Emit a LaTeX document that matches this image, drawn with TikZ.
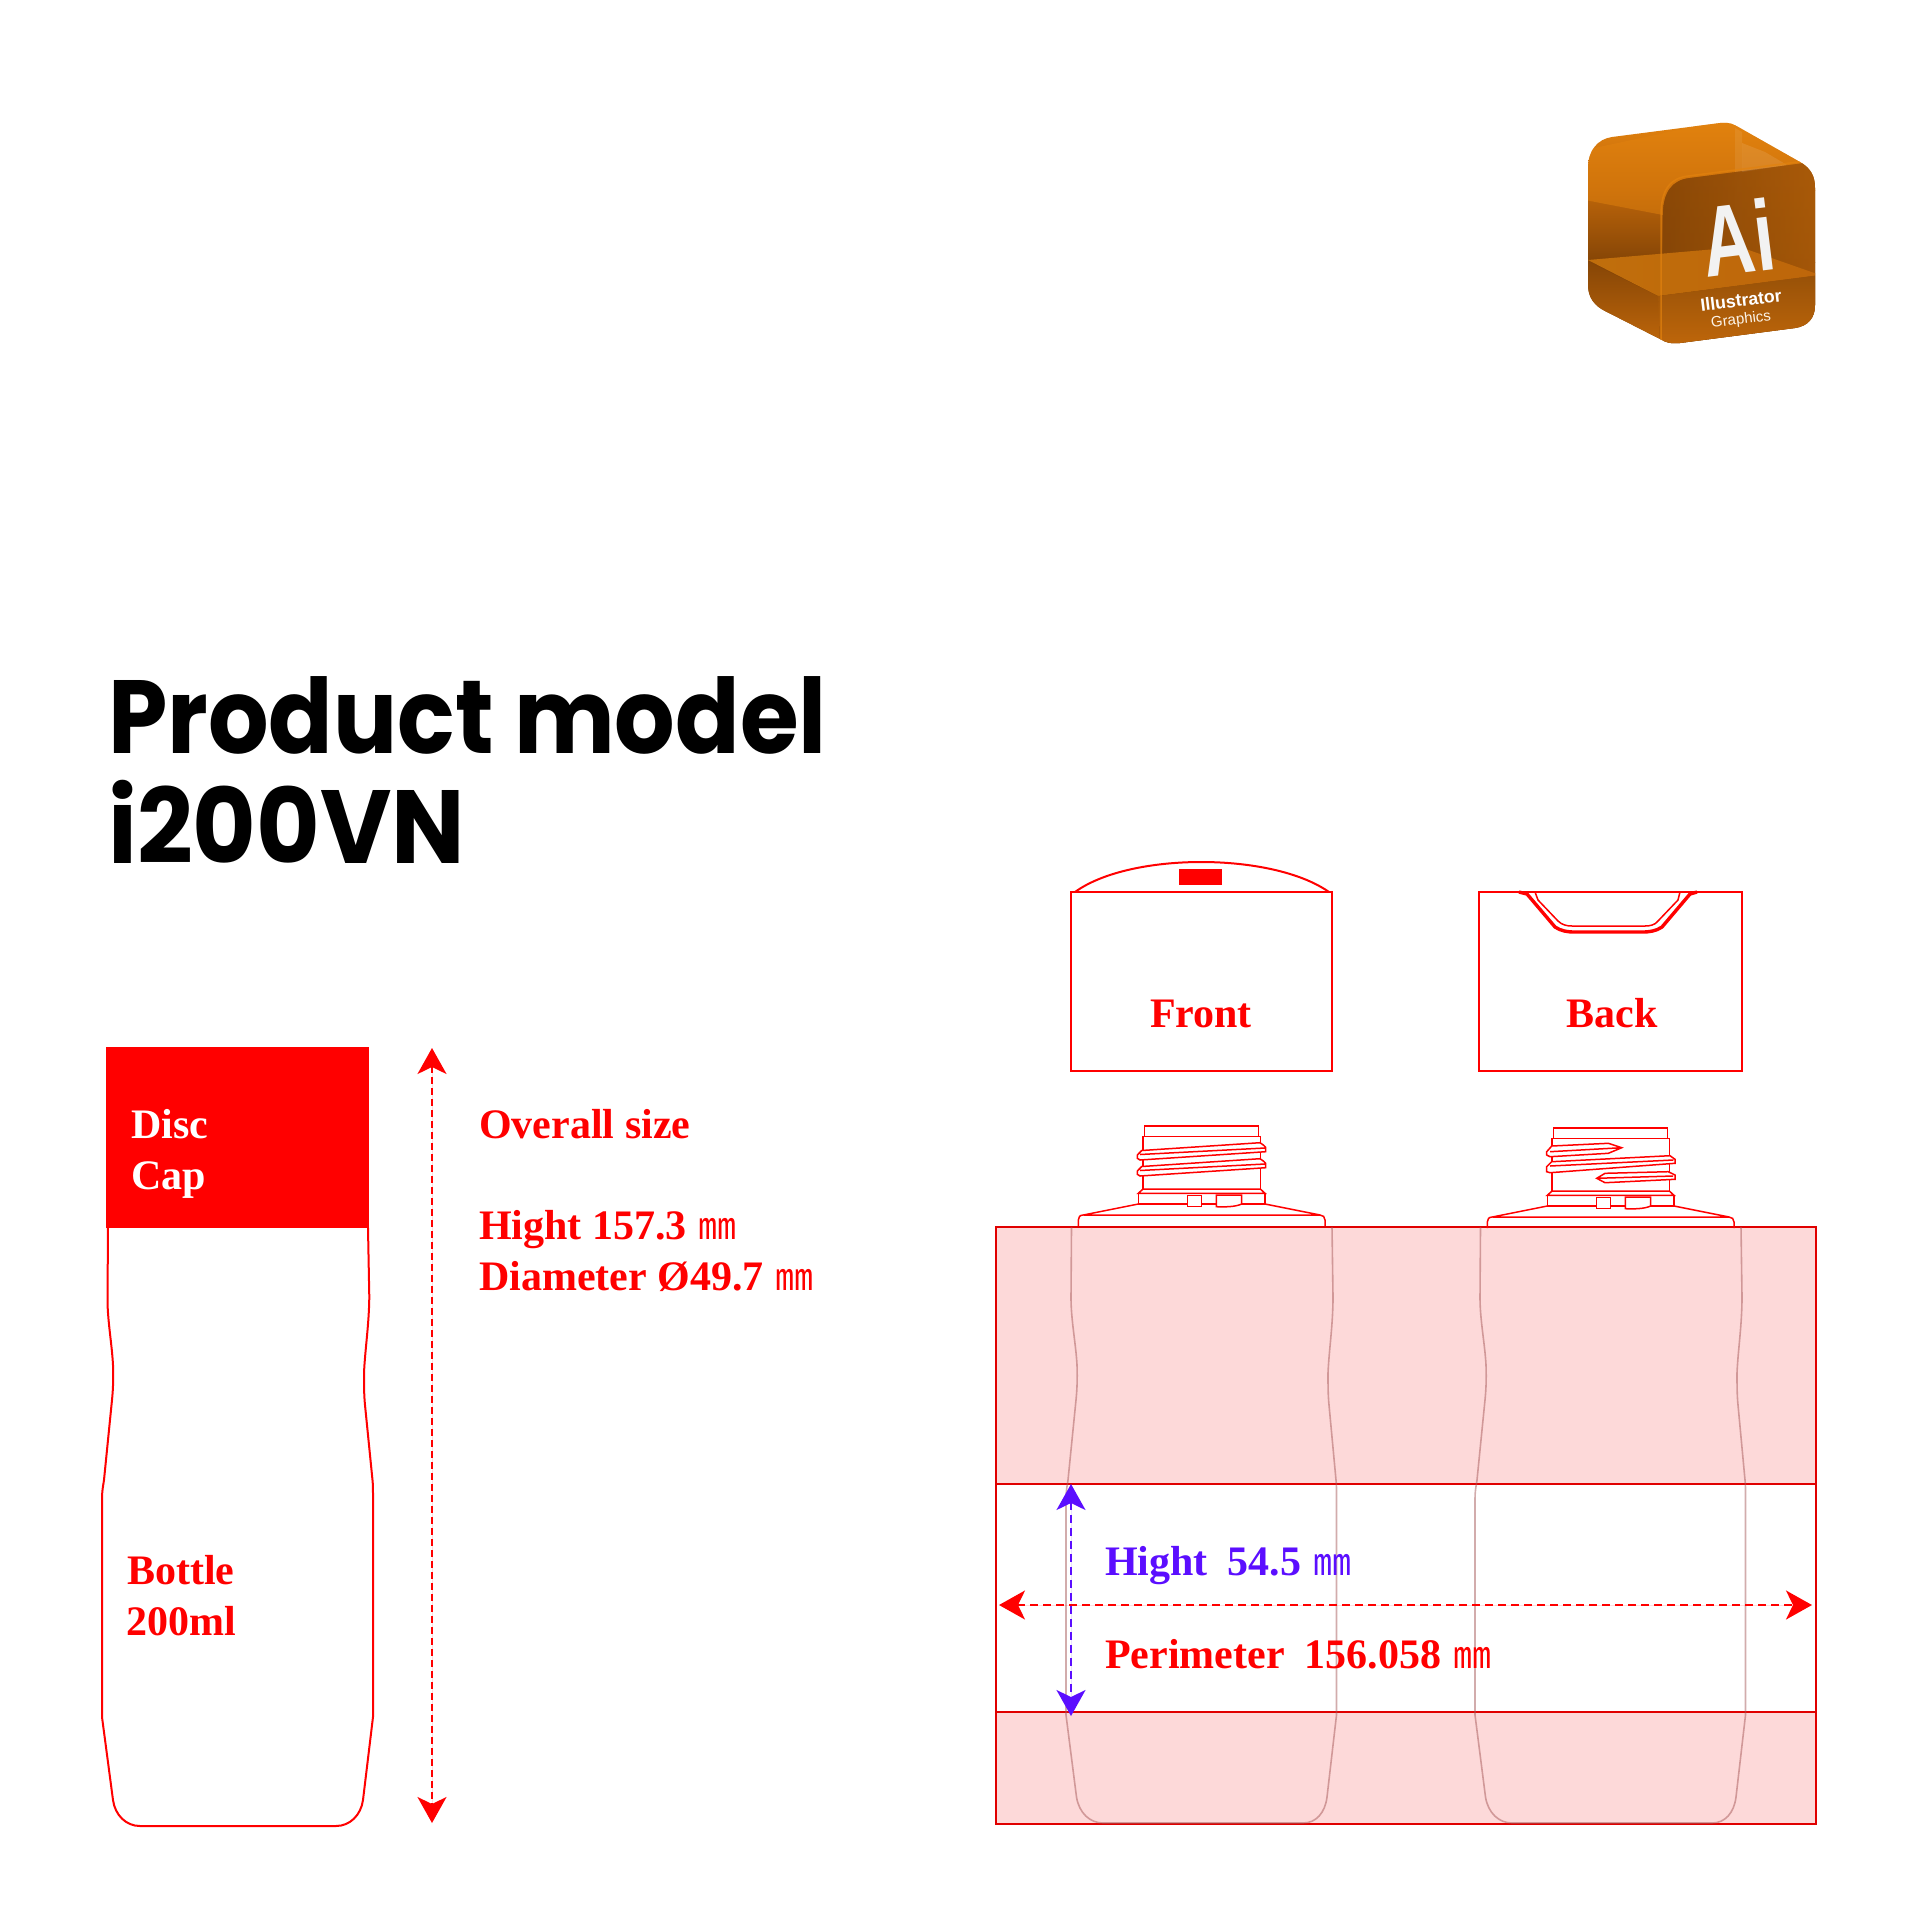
\documentclass[tikz,border=0pt]{standalone}
\usepackage{fontspec}
\setmainfont{Liberation Serif}
\newfontfamily\titlefont{Poppins}
\newfontfamily\cjkfont{Noto Sans CJK SC}
\newfontfamily\iconfont{Liberation Sans}
\usetikzlibrary{%
	calc,%
	arrows.meta%
}
\definecolor{markred}{HTML}{FF0000}
\definecolor{markblue}{HTML}{5B0EFF}
\definecolor{bandpink}{HTML}{FDD9D9}
\definecolor{cubelight}{HTML}{E2820E}
\definecolor{cubemid}{HTML}{BE660A}
\definecolor{cubedark}{HTML}{854506}
\newcommand{\mmsign}{{\cjkfont\fontsize{38}{38}\selectfont\mdseries ㎜}}
\newcommand{\cubepath}{(1588,168) .. controls (1588,150) and (1598,139) .. (1612,137) -- (1720,123) .. controls (1730,122) and (1733,124) .. (1740,128) -- (1800,162) .. controls (1810,168) and (1815,175) .. (1815,188) -- (1815,305) .. controls (1815,318) and (1808,326) .. (1795,328) -- (1680,343) .. controls (1670,344) and (1665,342) .. (1660,339) -- (1605,311) .. controls (1595,306) and (1588,298) .. (1588,285) -- cycle}
\newcommand{\facepath}{(1663,345) -- (1663,215) .. controls (1663,192) and (1672,180) .. (1690,178) -- (1805,163) -- (1820,180) -- (1820,345) -- cycle}
\tikzset{
	outline/.style={draw=markred,line width=2pt},
	thinline/.style={draw=markred,line width=1.5pt},
	bottleline/.style={draw=gray!70!red,opacity=.5,line width=1.6pt},
	bandbox/.style={draw=markred!88!black,fill=bandpink,line width=2.2pt},
	label/.style={font=\fontsize{42}{42}\selectfont\bfseries,anchor=base west,inner sep=0pt,text=markred},
	title/.style={font=\titlefont\fontsize{104}{104}\selectfont\bfseries,anchor=base west,inner sep=0pt},
	reddim/.style={draw=markred,line width=2pt,dash pattern=on 8pt off 5pt,{Stealth[length=26pt,width=29pt,inset=7pt]}-{Stealth[length=26pt,width=29pt,inset=7pt]}},
	bluedim/.style={reddim,draw=markblue,fill=markblue}
}

\begin{document}
\begin{tikzpicture}[x=1pt,y=-1pt]
	\useasboundingbox (0,0) rectangle (1920,1920);

	% Title
	\node[title,xscale=.915] (titleA) at (108,753) {Product model};
	\node[title,xscale=.94] (titleB) at (108,863) {i200VN};

	% Side view of the bottle
	\fill[markred] (106,1047) rectangle (369,1228);
	\draw[outline] (108,1228) -- (107.5,1300) .. controls (107.5,1320) and (112,1345) .. (113,1365)
		.. controls (113.5,1380) and (113,1390) .. (112,1400) -- (104,1480) .. controls (103,1487) and (102,1490) .. (102,1500)
		-- (102,1717) -- (113,1800)
		.. controls (115,1815) and (126,1826) .. (140,1826) -- (336,1826)
		.. controls (350,1826) and (361,1815) .. (363,1800) -- (373,1717) -- (373,1495) .. controls (373,1488) and (373,1485) .. (372.5,1480)
		-- (365,1405) .. controls (364,1395) and (364,1385) .. (364,1373) .. controls (365,1350) and (369,1325) .. (369.3,1297) -- (368,1228);
	\node[label,text=white] (capA) at (131,1138) {Disc};
	\node[label,text=white] (capB) at (131,1189) {Cap};
	\node[label] (bottleA) at (127,1584) {Bottle};
	\node[label] (bottleB) at (126,1635) {200ml};

	% Overall size
	\coordinate (overallTop) at (432,1048);
	\coordinate (overallBot) at (432,1823);
	\draw[reddim,dash pattern=on 7pt off 4pt,fill=markred] (overallTop) -- (overallBot);
	\node[label] (sizeA) at (479,1138) {Overall size};
	\node[label] (sizeB) at (479,1239) {Hight 157.3\hspace{12pt}\mmsign};
	\node[label] (sizeC) at (479,1290) {Diameter Ø49.7\hspace{12pt}\mmsign};

	% Label bands
	\fill[bandpink] (996,1227) rectangle (1816,1484);
	\fill[bandpink] (996,1712) rectangle (1816,1824);
	\draw[bandbox,fill=none] (996,1227) rectangle (1816,1824);
	\draw[bandbox] (996,1484) -- (1816,1484);
	\draw[bandbox] (996,1712) -- (1816,1712);

	% Bottle outlines over the bands
	\foreach \dx in {0,409}
	\draw[bottleline,xshift=\dx] (1071.5,1227) -- (1071,1298) .. controls (1071,1320) and (1076,1345) .. (1077,1365)
		.. controls (1077.5,1380) and (1077,1390) .. (1076,1400) -- (1068,1480) .. controls (1067,1487) and (1066,1490) .. (1066,1500)
		-- (1066,1715) -- (1076.5,1797)
		.. controls (1079,1813) and (1090,1823) .. (1103,1823) -- (1303,1823)
		.. controls (1316,1823) and (1325,1813) .. (1327,1797) -- (1336.5,1715) -- (1336.5,1495) .. controls (1336.5,1488) and (1336.5,1485) .. (1336,1480)
		-- (1329,1405) .. controls (1328,1395) and (1328,1385) .. (1328,1373) .. controls (1329,1350) and (1333,1325) .. (1333,1297) -- (1332,1227);

	% Boxes
	\draw[outline] (1071,892) rectangle (1332,1071);
	\draw[outline] (1479,892) rectangle (1742,1071);
	\node[label,anchor=base] (front) at (1201,1027) {Front};
	\node[label,anchor=base] (back) at (1612,1027) {Back};

	% Front tab
	\draw[outline] (1075,892) .. controls (1130,852) and (1272,852) .. (1329,892);
	\fill[markred] (1179,869) rectangle (1222,885);

	% Back notch
	\draw[thinline] (1535,892) -- (1538,900) -- (1558,921) .. controls (1562,925) and (1567,926) .. (1572,926) -- (1645,926)
		.. controls (1650,926) and (1655,925) .. (1658,921) -- (1678,900) -- (1680,892);
	\draw[outline,line width=3.4pt] (1519,892) -- (1527,894) -- (1555,927) .. controls (1561,931) and (1567,932) .. (1575,932) -- (1642,932)
		.. controls (1650,932) and (1656,931) .. (1662,927) -- (1690,894) -- (1697,892);

	% Necks
	\foreach \dx/\dy in {0/0,409/2}{
		\begin{scope}[xshift=\dx,yshift=-\dy]
			\draw[thinline] (1144.3,1136.7) -- (1144.3,1126) -- (1258.7,1126) -- (1258.7,1136.7);
			\draw[thinline] (1143,1189) -- (1143,1136.7) -- (1260.3,1136.7) -- (1260.3,1189);
			\draw[thinline] (1143,1189) -- (1260.3,1189) -- (1265,1193.3) -- (1138.3,1193.3) -- cycle;
			\draw[thinline] (1138.3,1193.3) -- (1138.3,1204) -- (1265,1204) -- (1265,1193.3);
			\draw[thinline,fill=white] (1187.7,1195.7) rectangle (1201.7,1206.7);
			\draw[thinline,fill=white] (1216.3,1195) -- (1241.7,1195) -- (1241.7,1204) .. controls (1235,1207) and (1225,1207) .. (1216.3,1206.7) -- cycle;
			\draw[thinline] (1138.3,1204) -- (1083.3,1215) -- (1320,1215) -- (1265,1204);
			\draw[thinline] (1078.3,1226) -- (1078.3,1220) .. controls (1078.3,1217) and (1080,1215) .. (1083.3,1215);
			\draw[thinline] (1325,1226) -- (1325,1220) .. controls (1325,1217) and (1323,1215) .. (1320,1215);
		\end{scope}
	}

	% Front threads
	\foreach \dy in {0,16}
	\draw[thinline,fill=white,yshift=-\dy] (1137.3,1155) -- (1141.7,1150.5) -- (1260,1142.7) -- (1263.3,1145) -- (1265.7,1147.3) -- (1265.7,1151.7) -- (1140,1160) -- (1137.3,1158.3) -- cycle
		(1140,1154.5) -- (1265,1148);

	% Back threads
	\draw[thinline,fill=white] (1546.7,1151.7) -- (1551.7,1146) -- (1608.3,1143.3) -- (1621.7,1147.7) -- (1608.3,1153.3) -- (1550,1156.7) -- (1546.7,1155) -- cycle
		(1550,1151.7) -- (1621.7,1147.7);
	\draw[thinline,fill=white] (1546.7,1166.7) -- (1551.7,1161.7) -- (1670,1155.7) -- (1675,1159.3) -- (1675,1163.3) -- (1550,1172.7) -- (1546.7,1171.7) -- cycle
		(1550,1166) -- (1673.3,1160);
	\draw[thinline,fill=white] (1596.7,1178.3) -- (1605,1173.3) -- (1668.3,1171.7) -- (1675,1175) -- (1675,1179.3) -- (1605,1182.7) -- cycle
		(1596.7,1178.3) -- (1673,1176);

	% Perimeter and height
	\coordinate (perimL) at (999,1605);
	\coordinate (perimR) at (1812,1605);
	\coordinate (hightT) at (1071,1484);
	\coordinate (hightB) at (1071,1716);
	\draw[reddim,fill=markred] (perimL) -- (perimR);
	\draw[bluedim] (hightT) -- (hightB);
	\node[label,text=markblue] (hightLabel) at (1105,1575) {Hight\hspace{20pt}54.5\hspace{12pt}\mmsign};
	\node[label] (perimLabel) at (1105,1668) {Perimeter\hspace{20pt}156.058\hspace{12pt}\mmsign};

	% Icon
	\begin{scope}
		\clip \cubepath;
		\shade[top color=cubelight,bottom color=cubemid] (1580,120) rectangle (1820,190);
		\shade[top color=cubemid,bottom color=cubedark] (1580,190) rectangle (1820,262);
		\fill[cubedark] (1580,262) rectangle (1820,350);
		% top face
		\fill[cubelight,opacity=.5] (1585,150) -- (1725,120) -- (1815,165) -- (1690,178) .. controls (1672,180) and (1663,192) .. (1663,215) -- (1585,200) -- cycle;
		% back panel edge
		\fill[white,opacity=.08] (1735,128) -- (1742,132) -- (1742,250) -- (1735,250) -- cycle;
		% front face
		\shade[top color=cubedark!85!cubemid,bottom color=cubedark,opacity=.9] \facepath;
		\shade[left color=cubedark,right color=cubemid,opacity=.55] \facepath;
		\fill[white,opacity=.1] (1742,143) -- (1765,152) -- (1787,165) -- (1742,172) -- cycle;
		% liquid surface
		\shade[left color=cubelight!85!black,right color=cubemid] (1588,260) -- (1740,247) -- (1820,275) -- (1658,296) -- cycle;
		\shade[top color=cubemid!80!black,bottom color=cubemid] (1658,296) -- (1820,275) -- (1820,345) -- (1660,345) -- cycle;
		\shade[top color=cubedark,bottom color=cubemid] (1585,260) -- (1658,296) -- (1660,345) -- (1585,310) -- cycle;
		% front edge
		\draw[cubelight,line width=1.5pt,opacity=.7] (1661,345) -- (1661,215) .. controls (1661,190) and (1670,178) .. (1688,176) -- (1805,161);
	\end{scope}
	\node[font=\iconfont\fontsize{100}{100}\selectfont\bfseries,text=white!90!gray,rotate=7,xscale=.72,inner sep=0pt] (iconA) at (1738,237) {Ai};
	\node[font=\iconfont\fontsize{17.7}{18}\selectfont\bfseries,text=white,rotate=7,inner sep=0pt] (iconB) at (1741,300) {Illustrator};
	\node[font=\iconfont\fontsize{15}{15}\selectfont,text=white!90!cubelight,rotate=7,inner sep=0pt] (iconC) at (1741,320) {Graphics};
\end{tikzpicture}
\end{document}
